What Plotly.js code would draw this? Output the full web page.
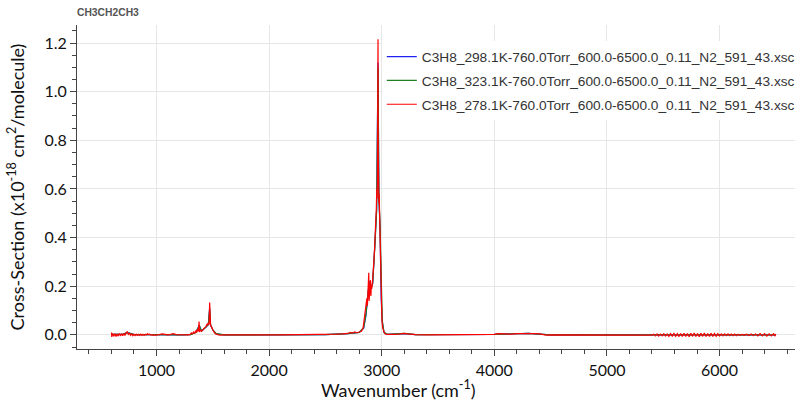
<!DOCTYPE html>
<html>
<head>
<meta charset="utf-8">
<script src="https://cdn.plot.ly/plotly-3.0.1.min.js"></script>
<style>html,body{margin:0;padding:0;background:#fff;}#chart{width:801px;height:402px;}</style>
</head>
<body>
<div id="chart"></div>
<script>
// Red series (278.1 K) – detailed
const redX = [600,603,610,620,630,640,650,660,670,680,690,700,710,720,730,740,750,760,770,780,790,800,810,820,830,840,850,860,870,880,890,900,910,920,930,940,950,960,970,980,990,1000,
1025,1050,1075,1100,1125,1150,1175,1200,1225,1250,1275,1300,
1310,1320,1330,1340,1350,1358,1365,1372,1378,1382,1390,1400,1410,1420,1430,1440,1448,1455,1462,1467,1472,1476,1480,1486,1492,1500,1510,1520,1535,1550,1570,
1600,1700,1800,1900,2000,2100,2200,2300,2400,2500,2600,2650,2700,2720,2740,2760,2780,2800,2820,2835,2848,
2855,2862,2868,2873,2877,2881,2885,2888,2892,2896,2900,2904,2908,2912,2918,2924,2930,2936,2942,2947,2952,2956,2959,2962,2965,2967,2969,2972,2975,2978,2981,2985,2989,2993,2997,3002,3008,3015,3025,3040,
3060,3100,3150,3200,3230,3260,3300,3400,3500,3600,3700,3800,3900,3950,4000,4030,4060,4100,4150,4200,4250,4300,4350,4400,4430,4460,4500,4600,4700,4800,4900,5000,5100,5200,5300,5400,
5415,5430,5445,5460,5475,5490,5505,5520,5535,5550,5565,5580,5595,5610,5625,5640,5655,5670,5685,5700,5715,5730,5745,5760,5775,5790,5805,5820,5835,5850,5865,5880,5895,5910,5925,5940,5955,5970,5985,6000,6015,6030,6045,6060,6075,6090,6105,6120,6135,6150,6165,6180,6200,
6220,6240,6260,6280,6300,6320,6340,6360,6380,6400,6420,6440,6460,6480,6490,6500];
const redY = [0.010,-0.008,0.006,-0.006,0.005,-0.007,0.004,-0.005,0.006,-0.004,0.005,-0.003,0.006,-0.002,0.008,0.013,0.002,0.007,-0.002,0.004,-0.003,0.003,-0.003,0.003,-0.002,0.002,-0.002,0.003,-0.002,0.002,-0.002,0.003,0.000,0.005,0.001,0.003,-0.001,0.001,-0.002,0.001,-0.002,0.000,
0.001,0.004,0.002,0.000,0.002,0.005,0.001,0.000,0.001,-0.001,0.000,0.002,
0.008,0.004,0.012,0.006,0.018,0.010,0.025,0.015,0.055,0.012,0.020,0.015,0.020,0.025,0.032,0.035,0.045,0.040,0.050,0.042,0.133,0.045,0.040,0.035,0.028,0.020,0.012,0.006,0.002,0.000,-0.001,
0.000,0.000,-0.001,0.000,0.000,0.000,0.000,0.001,0.001,0.001,0.003,0.004,0.006,0.010,0.007,0.012,0.009,0.012,0.015,0.030,0.070,
0.090,0.120,0.150,0.120,0.190,0.160,0.255,0.140,0.200,0.170,0.225,0.160,0.205,0.190,0.220,0.250,0.300,0.350,0.400,0.470,0.520,0.600,0.560,0.640,0.900,1.215,0.750,0.600,0.540,0.580,0.500,0.420,0.300,0.190,0.110,0.060,0.030,0.014,0.006,0.002,
0.001,0.002,0.003,0.006,0.004,0.002,0.001,0.000,0.000,0.000,0.001,0.000,0.001,0.000,0.002,0.005,0.004,0.005,0.003,0.005,0.006,0.007,0.005,0.004,0.001,-0.001,0.000,0.000,0.001,0.000,0.000,0.000,0.001,0.000,0.001,-0.001,
0.003,-0.004,0.004,-0.005,0.003,-0.004,0.005,-0.005,0.004,-0.006,0.005,-0.005,0.006,-0.006,0.005,-0.007,0.006,-0.006,0.007,-0.007,0.006,-0.008,0.007,-0.006,0.008,-0.007,0.006,-0.008,0.007,-0.006,0.008,-0.007,0.006,-0.007,0.007,-0.006,0.006,-0.006,0.005,-0.005,0.004,-0.004,0.004,-0.003,0.004,-0.003,0.003,-0.003,0.003,-0.003,0.003,-0.002,0.002,
-0.002,0.003,-0.003,0.004,-0.003,0.004,-0.004,0.005,-0.004,0.005,-0.005,0.004,-0.004,0.005,-0.005,0.004];

// Blue (298.1 K) and green (323.1 K) – mostly hidden under red
const bgX = [600,700,740,800,900,1000,1100,1200,1300,1350,1380,1400,1440,1460,1472,1480,1500,1530,1600,2000,2500,2700,2800,2840,2860,2880,2890,2900,2920,2940,2955,2967,2975,2985,2995,3005,3020,3050,3200,3300,4000,4300,4500,5000,5500,6000,6500];
const blueY = [0.002,0.002,0.010,0.001,0.001,0.000,0.001,0.000,0.001,0.012,0.040,0.015,0.032,0.042,0.110,0.040,0.020,0.004,0.000,0.000,0.001,0.005,0.010,0.028,0.080,0.180,0.220,0.190,0.210,0.380,0.520,1.120,0.560,0.440,0.150,0.055,0.010,0.002,0.005,0.001,0.002,0.006,0.000,0.000,0.000,0.000,0.000];
const greenY = [0.002,0.002,0.009,0.001,0.001,0.000,0.001,0.000,0.001,0.011,0.038,0.016,0.033,0.043,0.105,0.042,0.021,0.005,0.000,0.000,0.001,0.005,0.010,0.030,0.085,0.175,0.215,0.185,0.215,0.370,0.510,1.100,0.570,0.450,0.160,0.058,0.011,0.002,0.006,0.001,0.002,0.006,0.000,0.000,0.000,0.000,0.000];

const names = [
  'C3H8_298.1K-760.0Torr_600.0-6500.0_0.11_N2_591_43.xsc',
  'C3H8_323.1K-760.0Torr_600.0-6500.0_0.11_N2_591_43.xsc',
  'C3H8_278.1K-760.0Torr_600.0-6500.0_0.11_N2_591_43.xsc'
];
const colors = ['#2020f0','#1f801f','#ff0000'];

const traces = [
  {x: bgX, y: blueY, name: names[0], legendgroup:'a'},
  {x: bgX, y: greenY, name: names[1], legendgroup:'b'},
  {x: redX, y: redY, name: names[2], legendgroup:'c'}
].map((t,i)=>Object.assign(t,{type:'scatter',mode:'lines',line:{color:colors[i],width:1.2}}));

const tickFont = {family:'Lato, "Open Sans", sans-serif', size:16, color:'#111'};
const layout = {
  width: 801, height: 402,
  margin: {l:77, r:1, t:25, b:53},
  paper_bgcolor:'#fff', plot_bgcolor:'#fff',
  showlegend: true,
  title: {text:'<b>CH3CH2CH3</b>', font:{family:'Liberation Sans, Arial, sans-serif', size:10.3, color:'#555'}, x:0, xref:'paper', xanchor:'left', y:15, yref:'container', yanchor:'middle'},
  legend: {x:0.4245, y:0.95, xanchor:'left', yanchor:'top', bgcolor:'#fff', borderwidth:0,
    font:{family:'Liberation Sans, Arial, sans-serif', size:13.7, color:'#333'},
    traceorder:'grouped', tracegroupgap:3},
  xaxis: {range:[294,6670], showgrid:true, gridcolor:'#e6e6e6', zeroline:false,
    showline:true, linecolor:'#444', linewidth:1, ticks:'outside', ticklen:6, tickcolor:'#444',
    dtick:1000, tick0:0, tickfont:tickFont, ticklabelstandoff:1,
    minor:{dtick:200, ticklen:4, tickcolor:'#444', showgrid:false}},
  yaxis: {range:[-0.058,1.274], showgrid:true, gridcolor:'#e6e6e6', zeroline:false,
    showline:true, linecolor:'#444', linewidth:1, ticks:'outside', ticklen:6, tickcolor:'#444',
    dtick:0.2, tick0:0, tickformat:'.1f', tickfont:tickFont,
    minor:{dtick:0.05, ticklen:4, tickcolor:'#444', showgrid:false},
    title:{text:'Cross-Section (x10<sup>-18</sup> cm<sup>2</sup>/molecule)', font:{family:'Lato, "Open Sans", sans-serif', size:18, color:'#111'}, standoff:15}},
  annotations: [{text:'Wavenumber (cm<sup>-1</sup>)', xref:'paper', yref:'paper', x:(401-77)/723, y:(349-389)/324,
    xanchor:'center', yanchor:'middle', showarrow:false, font:{family:'Lato, "Open Sans", sans-serif', size:18, color:'#111'}}]
};
Plotly.newPlot('chart', traces, layout, {displayModeBar:false, staticPlot:true});
</script>
</body>
</html>
